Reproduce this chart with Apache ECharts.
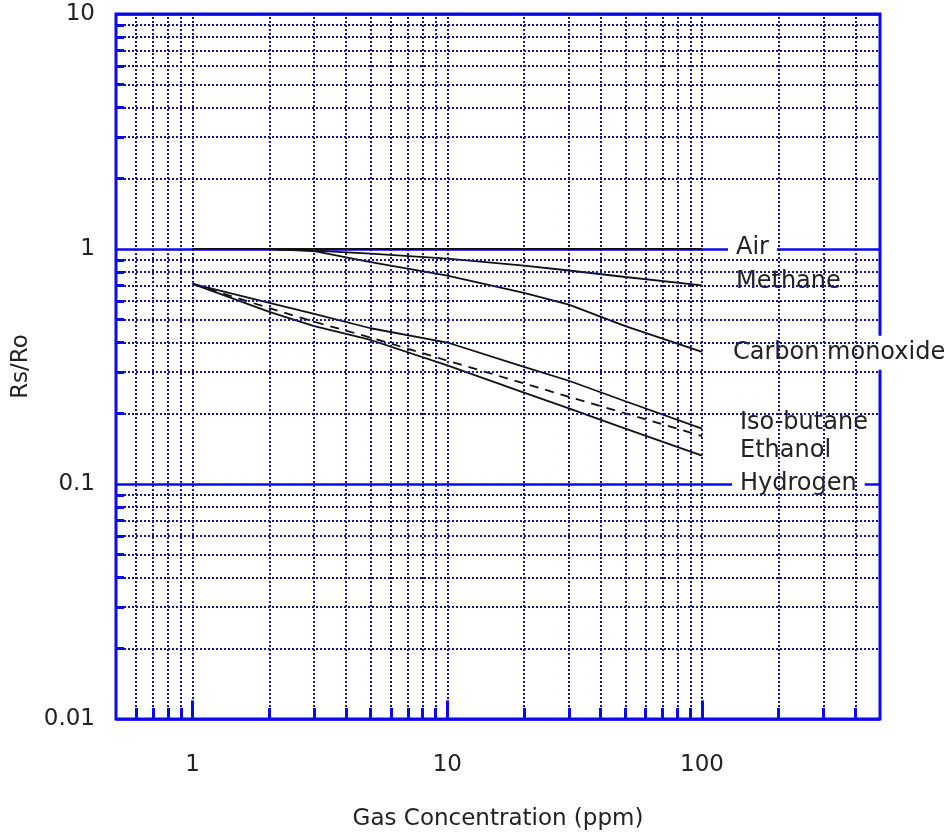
<!DOCTYPE html>
<html>
<head>
<meta charset="utf-8">
<script src="https://cdn.jsdelivr.net/npm/echarts@6/dist/echarts.min.js"></script>
<style>
html, body { margin: 0; background: #fff; }
#chart { width: 949px; height: 836px; }
</style>
</head>
<body>
<div id="chart"></div>
<script>
const ppm = [1, 2, 3, 5, 10, 20, 30, 50, 100];
const air = [1, 1, 1, 1, 1, 1, 1, 1, 1];
const methane = [1, 1, 0.985, 0.955, 0.91, 0.85, 0.81, 0.76, 0.70];
const carbonMonoxide = [1, 1, 0.98, 0.88, 0.77, 0.65, 0.58, 0.47, 0.365];
const isoButane = [0.71, 0.59, 0.53, 0.46, 0.40, 0.315, 0.275, 0.225, 0.172];
const ethanol = [0.71, 0.56, 0.49, 0.42, 0.335, 0.268, 0.235, 0.2, 0.16];
const hydrogen = [0.71, 0.54, 0.47, 0.41, 0.32, 0.245, 0.21, 0.172, 0.132];

// dotted grid lines of the log paper
const xGrid = [0.6, 0.7, 0.8, 0.9, 1, 2, 3, 4, 5, 6, 7, 8, 9, 10, 20, 30, 40, 50, 60, 70, 80, 90, 100, 200, 300, 400];
const yGrid = [0.02, 0.03, 0.04, 0.05, 0.06, 0.07, 0.08, 0.09,
               0.2, 0.3, 0.4, 0.5, 0.6, 0.7, 0.8, 0.9,
               2, 3, 4, 5, 6, 7, 8, 9];
const xMajor = [1, 10, 100];

const font = 'DejaVu Sans';
const blue = '#0a0af0';
const xMin = 0.5, yMin = 0.01;

let chart = echarts.init(document.getElementById('chart'));

function curve(name, values, dy, dx, dashed) {
    return {
        type: 'line',
        name: name,
        z: 3,
        data: ppm.map((x, i) => [x, values[i]]),
        showSymbol: false,
        lineStyle: { color: '#111', width: 1.8, type: dashed ? [9, 7] : 'solid' },
        endLabel: {
            show: true,
            formatter: '{a}',
            distance: 0,
            offset: [dx, dy],
            padding: [5, 8],
            backgroundColor: '#fff',
            color: '#222',
            fontSize: 24,
            fontFamily: font
        }
    };
}

// short inward ticks along the bottom and left frame
let bottomTicks = xGrid.map(v => {
    let f = xMajor.includes(v) ? 1.2 : 1.115;
    return [{ coord: [v, yMin] }, { coord: [v, yMin * f] }];
});
let leftTicks = yGrid.map(v => [{ coord: [xMin, v] }, { coord: [xMin * 1.075, v] }]);

let option = {
    animation: false,
    backgroundColor: '#fff',
    grid: {
        left: 116,
        right: 69,
        top: 14,
        bottom: 116,
        show: true,
        borderColor: blue,
        borderWidth: 3
    },
    xAxis: {
        type: 'log',
        logBase: 10,
        min: xMin,
        max: 500,
        name: 'Gas Concentration (ppm)',
        nameLocation: 'middle',
        nameGap: 89,
        nameTextStyle: { color: '#222', fontSize: 23, fontFamily: font },
        axisLine: { show: false },
        axisTick: { show: false },
        splitLine: { show: false },
        axisLabel: {
            color: '#222',
            fontSize: 23,
            fontFamily: font,
            margin: 35,
            showMinLabel: false,
            showMaxLabel: false
        }
    },
    yAxis: {
        type: 'log',
        logBase: 10,
        min: yMin,
        max: 10,
        name: 'Rs/Ro',
        nameLocation: 'middle',
        nameGap: 79,
        nameTextStyle: { color: '#222', fontSize: 23, fontFamily: font },
        axisLine: { show: false },
        axisTick: { show: false },
        splitLine: { show: true, lineStyle: { color: blue, width: 2.5 } },
        axisLabel: {
            color: '#222',
            fontSize: 23,
            fontFamily: font,
            margin: 21,
            padding: [6, 0, 0, 0]
        }
    },
    series: [
        {
            type: 'line',
            name: 'grid',
            z: 1,
            data: [],
            markLine: {
                silent: true,
                symbol: 'none',
                label: { show: false },
                lineStyle: { color: '#16168e', width: 2, type: [2, 2] },
                data: xGrid.map(v => ({ xAxis: v })).concat(yGrid.map(v => ({ yAxis: v })))
            }
        },
        {
            type: 'line',
            name: 'ticks',
            z: 2,
            data: [],
            markLine: {
                silent: true,
                symbol: 'none',
                label: { show: false },
                lineStyle: { color: blue, width: 3, type: 'solid' },
                data: bottomTicks.concat(leftTicks)
            }
        },
        curve('Air', air, -1, 26),
        curve('Methane', methane, -4, 26),
        curve('Carbon monoxide', carbonMonoxide, 1, 23),
        curve('Iso-butane', isoButane, -6, 30),
        curve('Ethanol', ethanol, 15, 30, true),
        curve('Hydrogen', hydrogen, 28, 30)
    ]
};
chart.setOption(option);
</script>
</body>
</html>
